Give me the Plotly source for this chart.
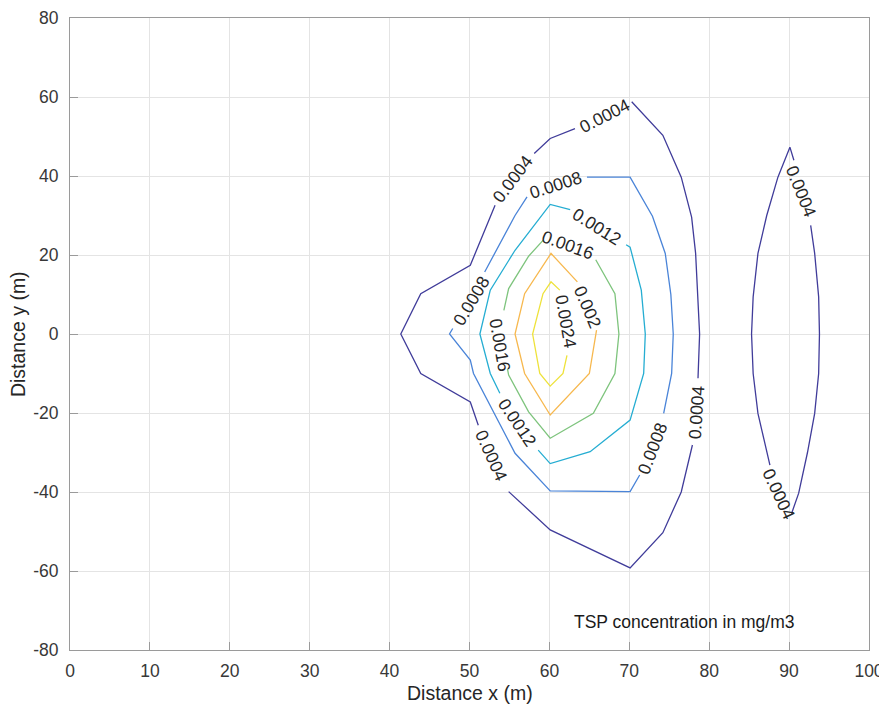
import plotly.graph_objects as go

# ---------------- data ----------------
levels = [0.0004, 0.0008, 0.0012, 0.0016, 0.002, 0.0024]
level_colors = ["#403C9A", "#4A84D8", "#25ADD2", "#7EC47D", "#F7B84E", "#EEE23A"]

# contour 0.0004 (main plume, broken at labels by None)
c0004a_x = [70.3, 74.2, 76.5, 77.8, 78.3, 78.6, 78.8, 78.6, None,
            77.9, 76.5, 74.2, 70.1, 60.1, 54.9, None,
            51.1, 50.1, 43.9, 41.4, 43.9, 50.1, 53.2, None,
            58.1, 60.1, 63.2]
c0004a_y = [58.8, 50.3, 39.7, 29.6, 20.4, 9.4, 0.0, -11.2, None,
            -28.1, -40.0, -50.3, -59.2, -49.6, -39.9, None,
            -23.1, -17.2, -10.0, 0.0, 10.2, 17.4, 32.6, None,
            45.7, 49.5, 52.0]
# contour 0.0004 (secondary lobe near x = 90 m)
c0004b_x = [90.6, 90.1, 88.6, 87.2, 86.1, 85.5, 85.3, 85.5, 86.1, 87.6, None,
            90.3, 91.2, 92.3, 93.2, 93.7, 93.8, 93.7, 93.2, 92.7]
c0004b_y = [44.0, 47.3, 39.7, 30.0, 20.4, 9.4, 0.0, -10.0, -20.1, -33.2, None,
            -45.5, -40.3, -30.0, -20.1, -10.0, 0.0, 9.4, 20.4, 27.5]
# contour 0.0008
c0008_x = [64.7, 70.1, 72.9, 74.5, 75.2, 75.5, 75.3, 74.3, None,
           71.3, 70.1, 60.1, 55.7, 50.5, 50.1, 47.5, 47.9, None,
           51.9, 55.7, 57.2]
c0008_y = [39.7, 39.7, 29.8, 20.4, 10.0, 0.0, -10.0, -20.1, None,
           -35.7, -39.9, -39.7, -30.2, -10.0, -6.6, 0.0, 1.4, None,
           15.7, 30.0, 34.7]
# contour 0.0012
c0012_x = [69.6, 70.1, 71.5, 72.0, 71.8, 70.1, 65.1, 60.1, 58.6, None,
           53.8, 52.6, 51.3, 52.6, 55.7, 60.1, 62.6]
c0012_y = [22.6, 22.0, 11.1, 0.0, -10.0, -21.8, -29.8, -32.8, -29.4, None,
           -15.0, -10.0, 0.0, 11.1, 21.2, 32.8, 31.5]
# contour 0.0016
c0016_x = [65.8, 68.2, 68.7, 68.2, 65.5, 60.1, 57.4, 54.9, 54.75, None,
           54.3, 54.9, 57.4, 59.2]
c0016_y = [18.8, 10.2, 0.0, -10.0, -20.1, -26.4, -19.7, -10.4, -8.8, None,
           6.0, 11.5, 19.7, 23.7]
# contour 0.002
c0020_x = [63.5, 60.2, 56.9, 55.7, 56.9, 60.1, 65.0, 65.9, 65.9]
c0020_y = [13.2, 20.4, 10.2, 0.0, -10.0, -20.5, -10.0, 0.0, 1.0]
# contour 0.0024
c0024_x = [61.3, 60.2, 59.2, 57.9, 58.8, 60.1, 61.7, 62.2]
c0024_y = [11.1, 13.2, 10.2, 0.0, -10.0, -13.2, -10.0, -5.4]

contour_lines = [
    (0, c0004a_x, c0004a_y),
    (0, c0004b_x, c0004b_y),
    (1, c0008_x, c0008_y),
    (2, c0012_x, c0012_y),
    (3, c0016_x, c0016_y),
    (4, c0020_x, c0020_y),
    (5, c0024_x, c0024_y),
]

# inline contour labels: text, x, y, angle
label_text = ["0.0004", "0.0004", "0.0008", "0.0012", "0.0016", "0.0008", "0.0016",
              "0.0024", "0.002", "0.0012", "0.0004", "0.0008", "0.0004", "0.0004", "0.0004"]
label_x = [66.9, 55.4, 60.8, 66.0, 62.3, 50.25, 53.8, 62.1, 64.8, 56.0, 52.75, 72.9, 78.4, 91.55, 88.7]
label_y = [55.1, 39.2, 37.6, 27.1, 22.5, 8.3, -2.8, 3.1, 6.9, -22.6, -30.9, -28.8, -19.7, 36.0, -40.5]
label_angle = [-27, -53, -18, 32, 20, -59, 80, 80, 67, 56, 66, -69, -86, 68, 65]

x_ticks = [0, 10, 20, 30, 40, 50, 60, 70, 80, 90, 100]
y_ticks = [-80, -60, -40, -20, 0, 20, 40, 60, 80]

FONT = "Liberation Sans, Arial, Helvetica, sans-serif"

fig = go.Figure()
for lvl, xs, ys in contour_lines:
    fig.add_trace(go.Scatter(
        x=xs, y=ys, mode="lines", connectgaps=False,
        line=dict(color=level_colors[lvl], width=1.3),
        hoverinfo="skip", showlegend=False))

for t, lx, ly, ang in zip(label_text, label_x, label_y, label_angle):
    fig.add_annotation(x=lx, y=ly, xref="x", yref="y", text=t, showarrow=False,
                       textangle=ang, font=dict(family=FONT, size=17.5, color="#262626"))

fig.add_annotation(x=62.8, y=-72.9, xref="x", yref="y", text="TSP concentration in mg/m3",
                   showarrow=False, xanchor="left", yanchor="middle",
                   font=dict(family=FONT, size=17.5, color="#1a1a1a"))

# axis titles
fig.add_annotation(x=0.5, y=-0.068, xref="paper", yref="paper", text="Distance x (m)",
                   showarrow=False, xanchor="center", yanchor="middle",
                   font=dict(family=FONT, size=19.5, color="#262626"))
fig.add_annotation(x=-0.065, y=0.5, xref="paper", yref="paper", text="Distance y (m)",
                   showarrow=False, xanchor="center", yanchor="middle", textangle=-90,
                   font=dict(family=FONT, size=19.5, color="#262626"))

axis_common = dict(
    showgrid=True, gridcolor="#e4e4e4", gridwidth=1,
    showline=True, linecolor="#9a9a9a", linewidth=1, mirror=True,
    ticks="inside", ticklen=8, tickcolor="#9a9a9a", tickwidth=1,
    zeroline=False, automargin=False,
    tickfont=dict(family=FONT, size=17.5, color="#383838"),
)

# the page adds an 8 px body margin, so the figure is 8 px smaller in each direction
fig.update_layout(
    width=879, height=703, autosize=False,
    margin=dict(l=62, r=18, t=10, b=61, autoexpand=False),
    paper_bgcolor="white", plot_bgcolor="white",
    xaxis=dict(range=[0, 100], tickvals=x_ticks, ticktext=[str(v) for v in x_ticks],
               ticklabelstandoff=5, **axis_common),
    yaxis=dict(range=[-80, 80], tickvals=y_ticks, ticktext=[str(v) for v in y_ticks],
               ticklabelstandoff=7, **axis_common),
    showlegend=False,
)

fig.write_html("out.html")
